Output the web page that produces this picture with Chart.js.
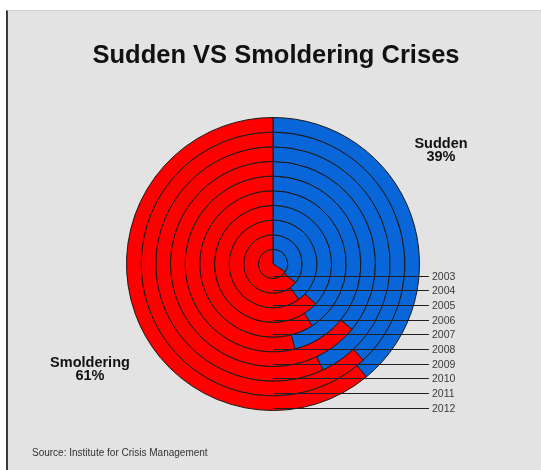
<!DOCTYPE html>
<html>
<head>
<meta charset="utf-8">
<script src="https://cdn.jsdelivr.net/npm/chart.js@4/dist/chart.umd.min.js"></script>
<style>
  body { margin: 0; background: #fff; font-family: "Liberation Sans", Arial, sans-serif; }
  #panel { position: absolute; left: 6px; top: 10px; width: 535px; height: 460px;
           background: #e3e3e3; border-left: 2px solid #3a3a3a; border-top: 1px solid #d2d2d2; box-sizing: border-box; }
  #wrap { position: absolute; left: 0; top: 0; width: 541px; height: 470px; }
  .txt { position: absolute; color: #111; line-height: 1; white-space: nowrap; }
  #title { left: 0; width: 552px; top: 42px; text-align: center; font-weight: bold; font-size: 25.5px; }
  .big { font-weight: bold; font-size: 14.5px; text-align: center; width: 100px; line-height: 13px; }
  #source { left: 32px; top: 448px; font-size: 10px; color: #333; }
</style>
</head>
<body>
<div id="panel"></div>
<div id="wrap"><canvas id="crises"></canvas></div>
<div class="txt" id="title">Sudden VS Smoldering Crises</div>
<div class="txt big" id="sudden" style="left:391px; top:137px;">Sudden<br>39%</div>
<div class="txt big" id="smolder" style="left:40px; top:356px;">Smoldering<br>61%</div>
<div class="txt" id="source">Source: Institute for Crisis Management</div>
<script>
// one ring per year, 2003 innermost, 2012 outermost
const years = ['2003', '2004', '2005', '2006', '2007', '2008', '2009', '2010', '2011', '2012'];
const suddenPct = [34, 36, 40, 37, 41, 46, 36, 43, 38, 39];
const smolderingPct = [66, 64, 60, 63, 59, 54, 64, 57, 62, 61];
const sliceNames = ['Sudden', 'Smoldering'];

const BLUE = '#0866d8';
const RED = '#fe0000';

// doughnut puts dataset 0 on the outside, so walk the years backwards
const datasets = [];
for (let i = years.length - 1; i >= 0; i--) {
  datasets.push({
    label: years[i],
    data: [suddenPct[i], smolderingPct[i]],
    backgroundColor: [BLUE, RED],
    borderColor: '#1a1a1a',
    borderWidth: 1
  });
}

// leader lines from the centre to the year labels on the right
const yearLines = {
  id: 'yearLines',
  afterDatasetsDraw(chart) {
    const ctx = chart.ctx;
    ctx.save();
    ctx.strokeStyle = '#202020';
    ctx.lineWidth = 1;
    ctx.font = '10.5px "Liberation Sans", Arial, sans-serif';
    ctx.fillStyle = '#3a3a3a';
    ctx.textBaseline = 'middle';
    chart.data.datasets.forEach((ds, idx) => {
      const arc = chart.getDatasetMeta(idx).data[0];
      const y = Math.round(arc.y + arc.outerRadius - 3) + 0.5;
      const endX = arc.x + 156;
      ctx.beginPath();
      ctx.moveTo(arc.x, y);
      ctx.lineTo(endX, y);
      ctx.stroke();
      ctx.fillText(ds.label, endX + 3, y + 1);
    });
    ctx.restore();
  }
};

new Chart(document.getElementById('crises'), {
  type: 'doughnut',
  data: { labels: sliceNames, datasets: datasets },
  options: {
    responsive: true,
    maintainAspectRatio: false,
    animation: false,
    cutout: 0,
    layout: { padding: { left: 126, right: 121, top: 117, bottom: 59 } },
    plugins: {
      legend: { display: false },
      tooltip: { enabled: false },
      title: { display: false }
    }
  },
  plugins: [yearLines]
});
</script>
</body>
</html>
